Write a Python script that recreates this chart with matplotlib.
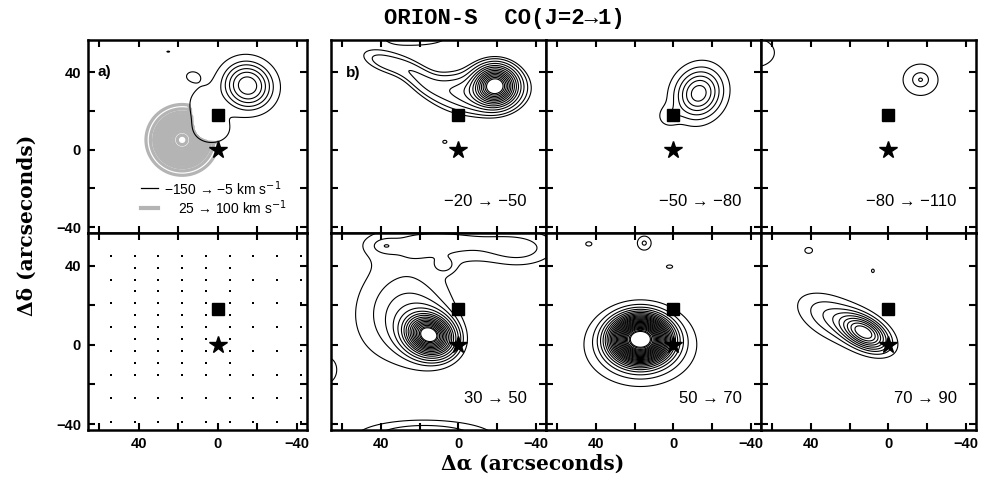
import numpy as np
import matplotlib
matplotlib.use("Agg")
import matplotlib.pyplot as plt

# map grid (arcseconds)
xg = np.linspace(70, -50, 241)
yg = np.linspace(-50, 62, 225)
X, Y = np.meshgrid(xg, yg)

# emission components: (dRA, dDec, sig_a, sig_b, pa_deg, peak)
blue_a = [(-15, 33, 8.5, 8, 30, 1.0), (8, 24, 6, 7, 0, 0.22), (3, 10, 8, 6, 0, 0.24),
          (13, 38, 4, 3, 0, 0.16), (25, 50.5, 2, 1, 0, 0.15)]
red_a = [(18, 5, 8.5, 8.5, 0, 1.0)]
comp_b = [(-19, 33, 6.5, 6, 0, 1.0), (-15, 31, 14, 8, 0, 0.15), (-6, 26, 11, 6, 0, 0.08),
          (38, 45, 10, 4, 20, 0.11), (20, 37, 10, 4.5, 39, 0.11), (5, 32, 10, 5, 10, 0.09),
          (22, 58, 15, 4, 0, 0.1), (7, 4, 1.6, 1.2, 0, 0.075)]
comp_c = [(-13, 29, 8, 9, 30, 1.0), (3, 17, 4, 4, 0, 0.2)]
comp_d = [(-16.5, 36, 5, 4.5, 0, 1.0), (69, 50, 7, 5, 0, 0.6)]
comp_e = [(15, 5, 7, 5.5, 20, 1.0), (18, 7, 12, 10, 40, 0.12), (30, 20, 18, 22, 30, 0.08),
          (0, 52, 35, 7, 0, 0.07), (-32, 47, 12, 6, 0, 0.05), (7, 40, 3.5, 2.5, 0, 0.05),
          (38, 50, 4.5, 2.5, 0, 0.04), (68, -13, 4, 5, 0, 0.08), (17, -47, 24, 6, 0, 0.12)]
comp_f = [(17, 3, 9, 7, 0, 1.0), (17, -1, 17, 12, 0, 0.15), (43.5, 51, 1.5, 1, 0, 0.07),
          (15, 51.4, 3, 3, 0, 0.08), (2, 39.5, 1.5, 0.8, 0, 0.07)]
comp_g = [(12, 6, 8, 4.5, 29, 1.0), (27, 13, 13, 6.5, 25, 0.3), (41, 47.7, 2, 1.5, 0, 0.13),
          (8, 37.4, 0.8, 1, 0, 0.12)]

lev_blue_a = [0.14, 0.3, 0.42, 0.56, 0.7, 0.86]
lev_red_a = [0.1, 0.17, 0.24, 0.31, 0.38, 0.45, 0.52, 0.59, 0.66, 0.73, 0.8, 0.88, 0.96]
lev_b = [0.06, 0.09, 0.14, 0.2, 0.27, 0.34, 0.42, 0.5, 0.58, 0.66, 0.74, 0.82, 0.9, 0.97]
lev_c = [0.15, 0.3, 0.45, 0.6, 0.75, 0.9]
lev_d = [0.2, 0.72, 0.98]
lev_e = [0.04, 0.07, 0.1, 0.14, 0.19, 0.25, 0.31, 0.37, 0.44, 0.51, 0.58, 0.65, 0.72, 0.79, 0.86, 0.93, 0.98]
lev_f = [0.04, 0.075, 0.11, 0.145, 0.18, 0.215, 0.25, 0.285, 0.32, 0.355, 0.39, 0.425, 0.46,
         0.5, 0.54, 0.58, 0.62, 0.66, 0.7, 0.74, 0.78, 0.82, 0.86, 0.9, 0.95, 0.985]
lev_g = [0.08, 0.17, 0.27, 0.37, 0.48, 0.6, 0.72, 0.85, 0.985]

vel_labels = ["\u221220 \u2192 \u221250", "\u221250 \u2192 \u221280", "\u221280 \u2192 \u2212110",
              "30 \u2192 50", "50 \u2192 70", "70 \u2192 90"]

# positions of the observed spectra (panel a, bottom)
grid_x = [54, 42, 30, 18, 6, -6, -18, -30, -42]
grid_y = [45, 33, 21, 9, -3, -15, -27, -39]
fine_x = [42, 30, 18, 6, -6]
fine_y = [39, 27, 15, 3, -9]

square_pos = (0, 18)
star_pos = (0, 0)


def field(comps):
    z = np.zeros(X.shape)
    for x0, y0, sa, sb, pa, amp in comps:
        t = np.deg2rad(pa)
        dx, dy = X - x0, Y - y0
        u = dx * np.cos(t) + dy * np.sin(t)
        v = -dx * np.sin(t) + dy * np.cos(t)
        z = z + amp * np.exp(-0.5 * ((u / sa) ** 2 + (v / sb) ** 2))
    return z


fig = plt.figure(figsize=(9.89, 4.87), dpi=100)

W = 989.0
H = 487.0
lefts = [88 / W, 331 / W, 546 / W, 761 / W]
widths = [219 / W, 215 / W, 215 / W, 215 / W]
bottoms = [1 - 233 / H, 1 - 430 / H]
heights = [193 / H, 197 / H]

axes = {}
for r in range(2):
    for c in range(4):
        ax = fig.add_axes([lefts[c], bottoms[r], widths[c], heights[r]])
        ax.set_xlim(65.5, -45)
        ax.set_ylim(-43, 56.5)
        ax.set_xticks([60, 40, 20, 0, -20, -40])
        ax.set_yticks([40, 20, 0, -20, -40])
        ax.set_xticklabels(["", "40", "", "0", "", "\u221240"] if r == 1 else [])
        ax.set_yticklabels(["40", "", "0", "", "\u221240"] if c == 0 else [])
        ax.tick_params(direction="in", top=True, right=True, length=5, width=1.5,
                       labelsize=10.5, pad=5)
        for lab in ax.get_xticklabels() + ax.get_yticklabels():
            lab.set_fontweight("bold")
            lab.set_family("Liberation Sans")
        for s in ax.spines.values():
            s.set_linewidth(1.8)
        axes[(r, c)] = ax

# panel a top: red wing in grey, blanked where the blue wing lies on top of it
ax = axes[(0, 0)]
zb = field(blue_a)
zr = field(red_a)
zr[zb >= lev_blue_a[0]] = 0.0
ax.contour(X, Y, zr, levels=lev_red_a, colors="#b4b4b4", linewidths=2.3, zorder=1)
ax.contour(X, Y, zb, levels=lev_blue_a, colors="black", linewidths=0.8, zorder=3)
ax.text(60.5, 40, "a)", fontsize=11, fontweight="bold", va="center", family="Liberation Sans")
ax.plot([39, 30], [-20, -20], color="black", lw=0.9)
ax.plot([39, 30], [-30, -30], color="#b4b4b4", lw=3)
ax.text(27, -20, "\u2212150 \u2192 \u22125 km s$^{-1}$", fontsize=10, va="center",
        family=["Liberation Sans", "DejaVu Sans"])
ax.text(20, -30, "25 \u2192 100 km s$^{-1}$", fontsize=10, va="center",
        family=["Liberation Sans", "DejaVu Sans"])

# panel a bottom: observed positions
ax = axes[(1, 0)]
gx, gy = np.meshgrid(grid_x, grid_y)
ax.plot(gx.ravel(), gy.ravel(), "s", color="black", ms=1.5, mew=0)
fx, fy = np.meshgrid(fine_x, fine_y)
ax.plot(fx.ravel(), fy.ravel(), "s", color="black", ms=1.5, mew=0)

maps = [(axes[(0, 1)], comp_b, lev_b), (axes[(0, 2)], comp_c, lev_c),
        (axes[(0, 3)], comp_d, lev_d), (axes[(1, 1)], comp_e, lev_e),
        (axes[(1, 2)], comp_f, lev_f), (axes[(1, 3)], comp_g, lev_g)]
for (ax, comps, lev), lab in zip(maps, vel_labels):
    ax.contour(X, Y, field(comps), levels=lev, colors="black", linewidths=0.8)
    ax.text(-35, -27, lab, fontsize=12, ha="right", va="center",
            family=["Liberation Sans", "DejaVu Sans"])

axes[(0, 1)].text(58, 39.5, "b)", fontsize=11, fontweight="bold", va="center",
                  family="Liberation Sans")

for ax in axes.values():
    ax.plot(*square_pos, "s", color="black", ms=8.5, zorder=4)
    ax.plot(*star_pos, "*", color="black", ms=13, zorder=4)

fig.text(0.51, 0.963, "ORION-S  CO(J=2\u21921)", ha="center", va="center", fontsize=16,
         fontweight="bold", family=["Liberation Mono", "DejaVu Sans Mono"])
fig.text(0.539, 0.047, "\u0394\u03b1 (arcseconds)", ha="center", va="center", fontsize=14.5,
         fontweight="bold", family=["DejaVu Serif"])
fig.text(0.027, 0.538, "\u0394\u03b4 (arcseconds)", ha="center", va="center", fontsize=14.5,
         fontweight="bold", rotation=90, family=["DejaVu Serif"])

fig.savefig("out.png", dpi=100)
